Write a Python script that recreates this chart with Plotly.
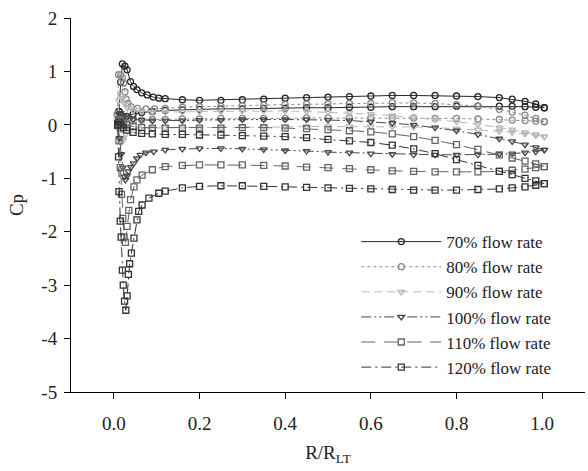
import plotly.graph_objects as go

# ---------------- data ----------------
X_BODY = [0.12, 0.16, 0.2, 0.25, 0.3, 0.35, 0.4, 0.45, 0.5, 0.55, 0.6, 0.65,
          0.7, 0.75, 0.8, 0.85, 0.9, 0.93, 0.96, 0.985, 1.005]

LABELS = ["70% flow rate", "80% flow rate", "90% flow rate",
          "100% flow rate", "110% flow rate", "120% flow rate"]

X_TICKS = [0, 0.2, 0.4, 0.6, 0.8, 1.0]
X_TICK_TEXT = ["0.0", "0.2", "0.4", "0.6", "0.8", "1.0"]
Y_TICKS = [-5, -4, -3, -2, -1, 0, 1, 2]
Y_TICK_TEXT = ["-5", "-4", "-3", "-2", "-1", "0", "1", "2"]

# 70 %
P70_LE_X = [0.012, 0.016, 0.02, 0.026, 0.031, 0.039, 0.046, 0.054, 0.065, 0.078, 0.092, 0.105]
P70_LE_CP = [0.25, 0.8, 1.14, 1.1, 1.03, 0.81, 0.72, 0.66, 0.6, 0.56, 0.52, 0.5]
P70_CP = [0.49, 0.47, 0.46, 0.46, 0.47, 0.48, 0.5, 0.51, 0.52, 0.53, 0.54, 0.55,
          0.55, 0.55, 0.54, 0.53, 0.51, 0.48, 0.44, 0.39, 0.32]
S70_LE_X = [0.012, 0.015, 0.02, 0.03, 0.045, 0.065, 0.09]
S70_LE_CP = [0.25, 0.12, 0.12, 0.16, 0.2, 0.23, 0.25]
S70_CP = [0.27, 0.28, 0.29, 0.3, 0.3, 0.31, 0.31, 0.32, 0.32, 0.33, 0.33, 0.34,
          0.34, 0.34, 0.35, 0.35, 0.35, 0.35, 0.34, 0.33, 0.32]

# 80 %
P80_LE_X = [0.008, 0.011, 0.016, 0.02, 0.023, 0.026, 0.029, 0.033, 0.04, 0.055, 0.075, 0.095]
P80_LE_CP = [0.2, 0.94, 0.93, 0.88, 0.78, 0.62, 0.48, 0.4, 0.34, 0.31, 0.3, 0.3]
P80_CP = [0.31, 0.33, 0.34, 0.35, 0.36, 0.37, 0.38, 0.39, 0.39, 0.4, 0.4, 0.41,
          0.41, 0.4, 0.38, 0.35, 0.29, 0.24, 0.18, 0.12, 0.06]
S80_LE_X = [0.008, 0.011, 0.015, 0.02, 0.03, 0.045, 0.065, 0.09]
S80_LE_CP = [0.2, 0.0, -0.08, -0.02, 0.04, 0.07, 0.09, 0.1]
S80_CP = [0.1, 0.11, 0.11, 0.12, 0.12, 0.12, 0.12, 0.13, 0.13, 0.13, 0.13, 0.13,
          0.13, 0.12, 0.12, 0.11, 0.1, 0.09, 0.08, 0.07, 0.06]

# 90 %
P90_LE_X = [0.009, 0.012, 0.016, 0.02, 0.025, 0.032, 0.045, 0.065, 0.09]
P90_LE_CP = [0.1, 0.45, 0.55, 0.5, 0.4, 0.32, 0.27, 0.25, 0.24]
P90_CP = [0.24, 0.24, 0.25, 0.25, 0.26, 0.26, 0.26, 0.25, 0.24, 0.22, 0.2, 0.17,
          0.14, 0.1, 0.06, 0.01, -0.05, -0.09, -0.14, -0.18, -0.22]
S90_LE_X = [0.009, 0.012, 0.015, 0.018, 0.022, 0.028, 0.04, 0.06, 0.09]
S90_LE_CP = [0.1, -0.1, -0.25, -0.32, -0.28, -0.18, -0.1, -0.07, -0.06]
S90_CP = [-0.05, -0.05, -0.05, -0.05, -0.04, -0.04, -0.04, -0.03, -0.03, -0.03, -0.03, -0.03,
          -0.04, -0.05, -0.07, -0.09, -0.12, -0.14, -0.17, -0.2, -0.22]

# 100 %
P100_LE_X = [0.009, 0.012, 0.016, 0.022, 0.03, 0.045, 0.065, 0.09]
P100_LE_CP = [0.05, 0.2, 0.22, 0.18, 0.14, 0.1, 0.09, 0.08]
P100_CP = [0.08, 0.08, 0.09, 0.09, 0.1, 0.1, 0.1, 0.1, 0.09, 0.08, 0.06, 0.03,
           0.0, -0.05, -0.11, -0.18, -0.26, -0.31, -0.37, -0.42, -0.47]
S100_LE_X = [0.009, 0.013, 0.017, 0.021, 0.025, 0.027, 0.031, 0.034, 0.04, 0.046, 0.054, 0.062, 0.075, 0.093]
S100_LE_CP = [0.05, -0.25, -0.55, -0.8, -0.97, -1.03, -0.95, -0.87, -0.79, -0.72, -0.63, -0.56, -0.52, -0.5]
S100_CP = [-0.47, -0.45, -0.44, -0.44, -0.45, -0.46, -0.48, -0.49, -0.51, -0.52, -0.54, -0.55,
           -0.56, -0.56, -0.56, -0.56, -0.55, -0.54, -0.52, -0.5, -0.47]

# 110 %
P110_LE_X = [0.009, 0.012, 0.016, 0.022, 0.03, 0.045, 0.065, 0.09]
P110_LE_CP = [0.0, 0.1, 0.1, 0.05, 0.0, -0.03, -0.05, -0.06]
P110_CP = [-0.06, -0.06, -0.06, -0.06, -0.05, -0.05, -0.06, -0.07, -0.09, -0.11, -0.13, -0.17,
           -0.22, -0.29, -0.37, -0.46, -0.56, -0.62, -0.68, -0.73, -0.78]
S110_LE_X = [0.009, 0.012, 0.015, 0.018, 0.021, 0.024, 0.027, 0.031, 0.035, 0.039, 0.047, 0.054, 0.066, 0.09]
S110_LE_CP = [0.0, -0.3, -0.8, -1.3, -1.75, -2.1, -2.2, -1.9, -1.6, -1.4, -1.16, -1.03, -0.94, -0.84]
S110_CP = [-0.78, -0.76, -0.75, -0.75, -0.75, -0.76, -0.77, -0.79, -0.8, -0.82, -0.84, -0.86,
           -0.87, -0.88, -0.88, -0.88, -0.87, -0.85, -0.83, -0.8, -0.78]

# 120 %
P120_LE_X = [0.009, 0.012, 0.016, 0.022, 0.03, 0.045, 0.065, 0.09]
P120_LE_CP = [0.0, 0.05, 0.0, -0.05, -0.1, -0.14, -0.16, -0.17]
P120_CP = [-0.18, -0.18, -0.19, -0.19, -0.2, -0.21, -0.22, -0.24, -0.27, -0.3, -0.33, -0.38,
           -0.45, -0.54, -0.65, -0.76, -0.87, -0.93, -1.0, -1.05, -1.1]
S120_LE_X = [0.009, 0.011, 0.012, 0.015, 0.017, 0.02, 0.022, 0.025, 0.028, 0.031, 0.034, 0.037,
             0.041, 0.047, 0.054, 0.058, 0.066, 0.082, 0.105]
S120_LE_CP = [0.0, -0.6, -1.25, -1.8, -2.1, -2.72, -3.0, -3.3, -3.47, -3.2, -2.8, -2.6,
              -2.4, -2.12, -1.78, -1.62, -1.5, -1.37, -1.28]
S120_CP = [-1.24, -1.18, -1.15, -1.14, -1.14, -1.15, -1.16, -1.17, -1.18, -1.19, -1.2, -1.21,
           -1.22, -1.22, -1.22, -1.21, -1.2, -1.18, -1.16, -1.13, -1.1]

SERIES = [
    (P70_LE_X, P70_LE_CP, P70_CP, S70_LE_X, S70_LE_CP, S70_CP),
    (P80_LE_X, P80_LE_CP, P80_CP, S80_LE_X, S80_LE_CP, S80_CP),
    (P90_LE_X, P90_LE_CP, P90_CP, S90_LE_X, S90_LE_CP, S90_CP),
    (P100_LE_X, P100_LE_CP, P100_CP, S100_LE_X, S100_LE_CP, S100_CP),
    (P110_LE_X, P110_LE_CP, P110_CP, S110_LE_X, S110_LE_CP, S110_CP),
    (P120_LE_X, P120_LE_CP, P120_CP, S120_LE_X, S120_LE_CP, S120_CP),
]

# ---------------- styles ----------------
COLORS = ["#262626", "#8a8a8a", "#b8b8b8", "#484848", "#646464", "#333333"]
DASHES = ["solid", "dot", "8px,5px", "10px,3px,2px,3px,2px,3px", "14px,9px", "10px,4px,2px,4px"]
SYMBOLS = ["circle-open", "circle-open", "triangle-down-open", "triangle-down-open",
           "square-open", "square-open"]

FONT = "Liberation Serif, Times New Roman, serif"

fig = go.Figure()
for i, (pxle, pcle, pcb, sxle, scle, scb) in enumerate(SERIES):
    px = pxle + X_BODY
    pc = pcle + pcb
    sx = sxle + X_BODY
    sc = scle + scb
    xs = px[::-1] + sx
    ys = pc[::-1] + sc
    fig.add_trace(go.Scatter(
        x=xs, y=ys, mode="lines+markers", name=LABELS[i],
        line=dict(color=COLORS[i], width=1, dash=DASHES[i]),
        marker=dict(symbol=SYMBOLS[i], size=6, color=COLORS[i],
                    line=dict(color=COLORS[i], width=1.3)),
    ))

axis_common = dict(
    showgrid=False, zeroline=False, showline=True, linecolor="black", linewidth=1,
    ticks="outside", ticklen=6, tickwidth=1, tickcolor="black",
    tickfont=dict(family=FONT, size=19, color="#222"),
    mirror=False,
)

fig.update_layout(
    width=588, height=471,
    margin=dict(l=71, r=3, t=18, b=79),
    paper_bgcolor="white", plot_bgcolor="white",
    font=dict(family=FONT, size=19, color="#222"),
    xaxis=dict(range=[-0.1, 1.1], tickvals=X_TICKS, ticktext=X_TICK_TEXT,
               ticklabelstandoff=8,
               title=dict(text="R/R<sub>LT</sub>", font=dict(family=FONT, size=19), standoff=12),
               **axis_common),
    yaxis=dict(range=[-5, 2], tickvals=Y_TICKS, ticktext=Y_TICK_TEXT,
               ticklabelstandoff=3,
               title=dict(text="Cp", font=dict(family=FONT, size=19), standoff=12),
               **axis_common),
    legend=dict(x=0.555, y=0.449, xanchor="left", yanchor="top",
                bgcolor="rgba(0,0,0,0)", font=dict(family=FONT, size=17),
                tracegroupgap=0, itemwidth=80),
    showlegend=True,
)

fig.write_html("out.html")
